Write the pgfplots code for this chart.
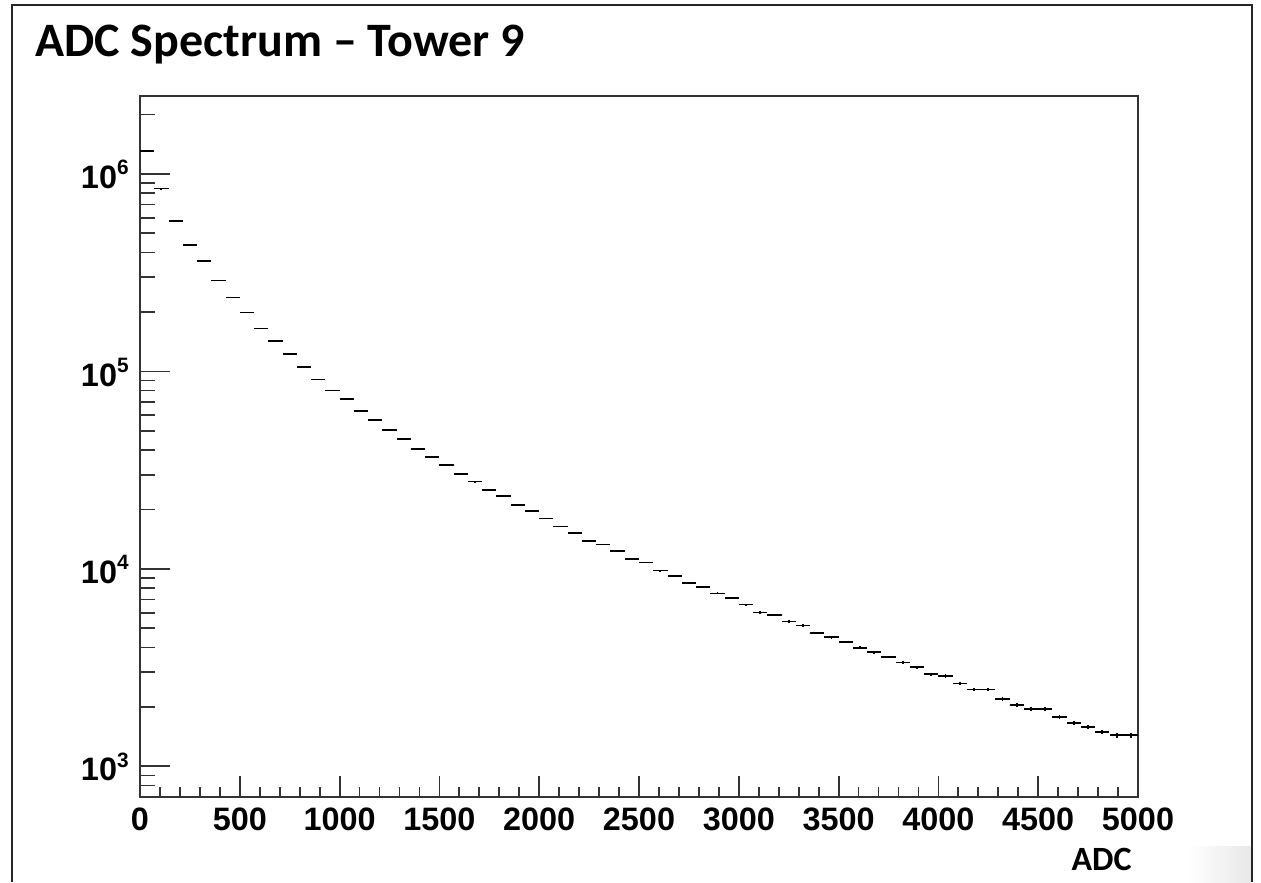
\documentclass[border=0pt]{standalone}
\usepackage{fontspec}
\usepackage{pgfplots}
\usepackage{pgfplotstable}
\pgfplotsset{compat=1.18}
\newfontfamily\calibri{Carlito}
\newfontfamily\arialf{Liberation Sans}

% ADC counts per bin (70 bins of width 5000/70)
\pgfplotstableread{
x       y
35.7    1310000
107.1   843000
178.6   576000
250.0   436000
321.4   362000
392.9   289000
464.3   237000
535.7   199000
607.1   165000
678.6   143000
750.0   122000
821.4   105600
892.9   91100
964.3   80100
1035.7  72800
1107.1  62800
1178.6  56500
1250.0  50300
1321.4  45300
1392.9  40600
1464.3  36700
1535.7  33700
1607.1  30300
1678.6  27700
1750.0  25200
1821.4  23300
1892.9  21000
1964.3  19600
2035.7  18000
2107.1  16400
2178.6  15200
2250.0  13900
2321.4  13300
2392.9  12300
2464.3  11250
2535.7  10780
2607.1  9810
2678.6  9190
2750.0  8470
2821.4  8080
2892.9  7510
2964.3  7140
3035.7  6600
3107.1  6020
3178.6  5860
3250.0  5420
3321.4  5170
3392.9  4730
3464.3  4500
3535.7  4260
3607.1  3990
3678.6  3780
3750.0  3580
3821.4  3360
3892.9  3180
3964.3  2930
4035.7  2870
4107.1  2630
4178.6  2450
4250.0  2450
4321.4  2200
4392.9  2050
4464.3  1950
4535.7  1950
4607.1  1780
4678.6  1665
4750.0  1580
4821.4  1490
4892.9  1437
4964.3  1437
}\adcdata

\newcommand{\tickfont}{\arialf\bfseries\fontsize{16.2pt}{16.2pt}\selectfont}
\newcommand{\pw}[1]{10\raisebox{6.8pt}{\fontsize{10.4pt}{10.4pt}\selectfont #1}}

\begin{document}
\begin{tikzpicture}
% slide frame
\draw[line width=1.2pt, black!85] (6pt,0) -- (6pt,438.5pt) -- (626pt,438.5pt) -- (626pt,0);
\shade[left color=white, right color=black!9] (594pt,0) rectangle (625.4pt,18pt);

\node[anchor=base west, inner sep=0pt, font=\calibri\bfseries\fontsize{24pt}{24pt}\selectfont]
  at (17.5pt,412.5pt) {ADC Spectrum – Tower 9};

% histogram with frame and y ticks
\begin{axis}[
  at={(70pt,42.5pt)}, anchor=south west,
  scale only axis, width=499pt, height=350.65pt,
  xmin=0, xmax=5000,
  ymode=log, ymin=700, ymax=2.49e6,
  xtick=\empty,
  ytick pos=left, tick align=inside,
  major tick length=15pt, minor tick length=7.5pt,
  ytick={1000,10000,100000,1000000},
  yticklabels={\pw{3},\pw{4},\pw{5},\pw{6}},
  minor ytick={800,900,2000,3000,4000,5000,6000,7000,8000,9000,
    20000,30000,40000,50000,60000,70000,80000,90000,
    200000,300000,400000,500000,600000,700000,800000,900000,2000000},
  yticklabel style={anchor=base east, inner sep=0pt, xshift=-5.5pt, yshift=-7.3pt, font=\tickfont},
  tick style={line width=0.9pt, black!80},
  axis line style={line width=1pt, black!80},
]
\addplot[draw=none, mark=none,
  error bars/.cd, x dir=both, x fixed=35.714, y dir=both, y explicit,
  error mark=none, error bar style={draw=black, line width=0.9pt}]
  table[x=x, y=y, y error expr={sqrt(\thisrow{y})}] {\adcdata};
\end{axis}

% x ticks and labels
\begin{axis}[
  at={(70pt,42.5pt)}, anchor=south west,
  scale only axis, width=499pt, height=350.65pt,
  xmin=0, xmax=5000, ymin=0, ymax=1,
  axis line style={draw=none},
  ytick=\empty,
  xtick={0,500,...,5000},
  xticklabels={0,500,1000,1500,2000,2500,3000,3500,4000,4500,5000},
  minor x tick num=4,
  xtick pos=bottom, tick align=inside,
  major tick length=10.5pt, minor tick length=5.25pt,
  tick style={line width=0.9pt, black!80},
  xticklabel style={anchor=north, inner sep=0pt, yshift=-5pt, font=\tickfont},
]
\end{axis}

\node[anchor=base east, inner sep=0pt, font=\calibri\bfseries\fontsize{17pt}{17pt}\selectfont]
  at (566pt,6pt) {ADC};

\pgfresetboundingbox
\path[use as bounding box] (0,0) rectangle (630.5pt,441pt);
\end{tikzpicture}
\end{document}
